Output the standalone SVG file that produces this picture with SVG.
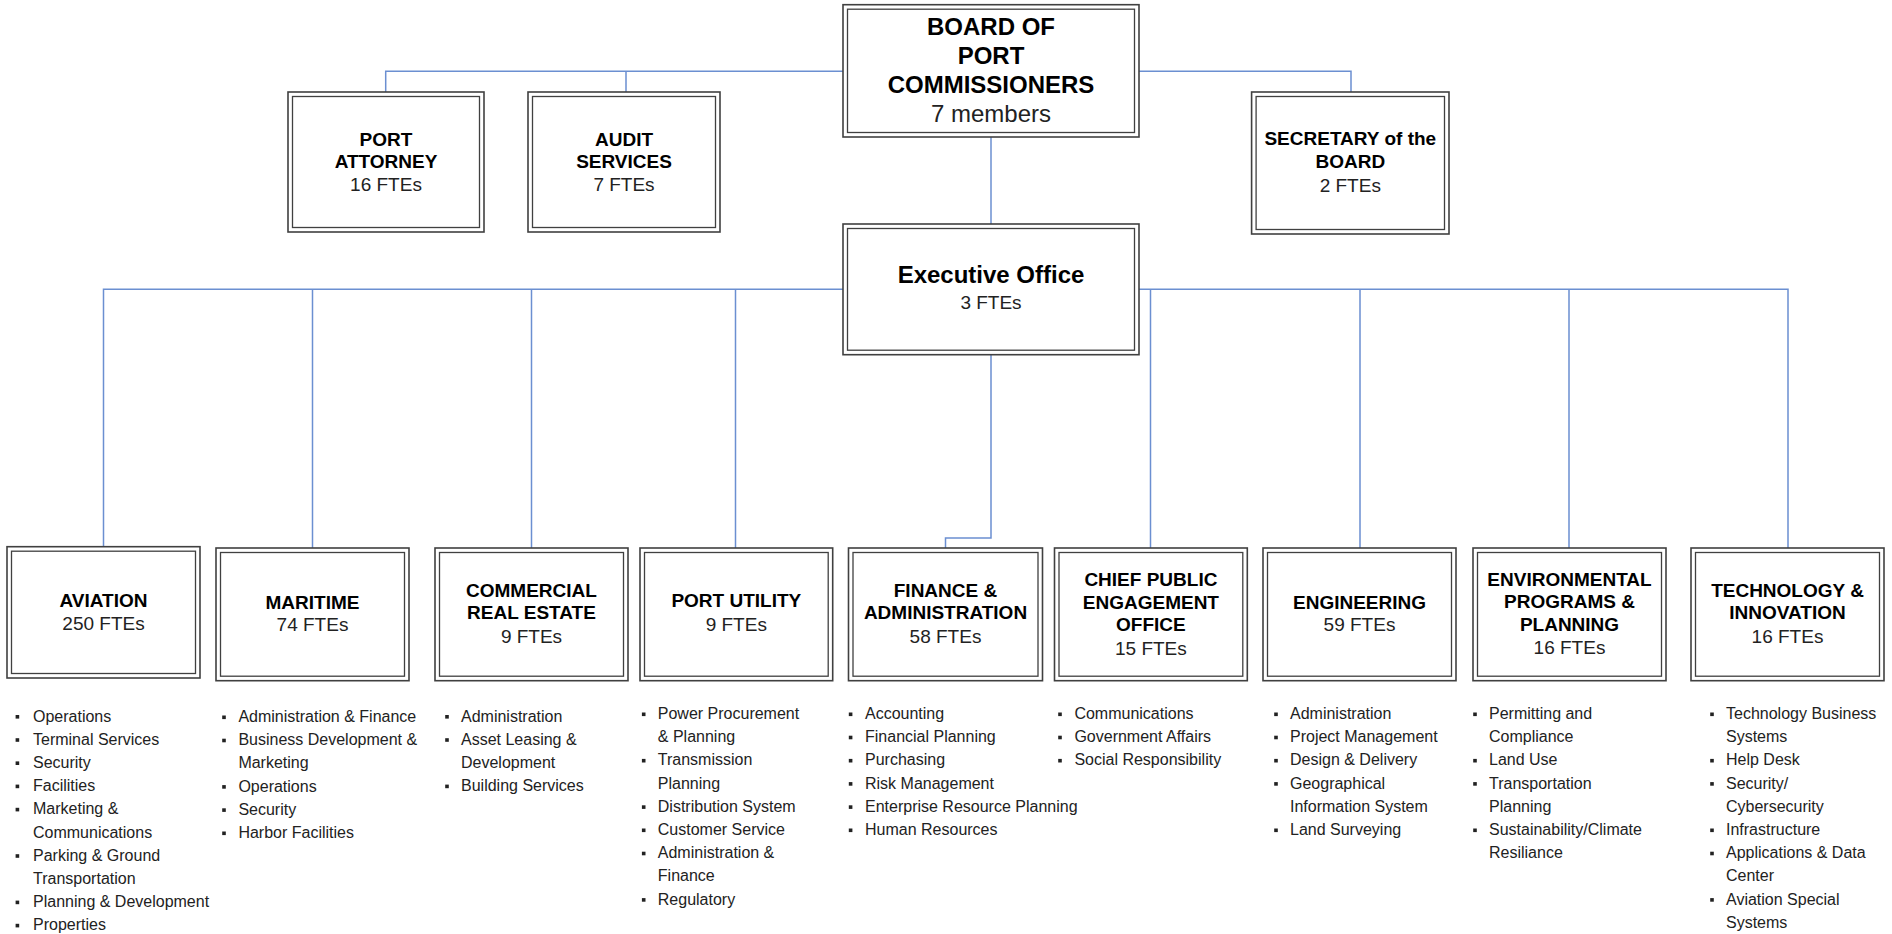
<svg xmlns="http://www.w3.org/2000/svg" width="1892" height="934" viewBox="0 0 1892 934">
<style>
.outer{fill:#fff;stroke:#404040;stroke-width:1.6}
.inner{fill:none;stroke:#404040;stroke-width:1.3}
.conn{fill:none;stroke:#6b8fd1;stroke-width:1.5}
text{font-family:"Liberation Sans",Arial,sans-serif}
.h{font-size:19px;font-weight:bold;fill:#000;text-anchor:middle}
.hb{font-size:24px;font-weight:bold;fill:#000;text-anchor:middle}
.f{font-size:19px;fill:#222;text-anchor:middle}
.fb{font-size:24px;fill:#222;text-anchor:middle}
.b{font-size:16px;fill:#222}
.dot{fill:#222}
</style>
<defs>
<rect id="bl" width="3.6" height="3.6" class="dot"/>
</defs>
<g id="connectors">
<path class="conn" d="M385.7,92 V71.3 H843 M626,71.3 V92 M1139,71.3 H1351 V92"/>
<path class="conn" d="M991,137 V224"/>
<path class="conn" d="M103.5,546.7 V289.3 H843 M312.5,289.3 V548 M531.5,289.3 V548 M735.5,289.3 V548"/>
<path class="conn" d="M1139,289.3 H1788 V548 M1150.5,289.3 V548 M1360,289.3 V548 M1569,289.3 V548"/>
<path class="conn" d="M991,354.7 V538 H945.5 V548"/>
</g>
<g id="board">
<rect class="outer" x="843" y="4.7" width="296" height="132.3"/>
<rect class="inner" x="847.5" y="9.2" width="287" height="123.3"/>
<text class="hb" x="991" y="35">BOARD OF</text>
<text class="hb" x="991" y="64">PORT</text>
<text class="hb" x="991" y="93">COMMISSIONERS</text>
<text class="fb" x="991" y="121.5">7 members</text>
</g>
<g id="port-attorney">
<rect class="outer" x="288" y="92" width="196" height="140"/>
<rect class="inner" x="292.5" y="96.5" width="187" height="131"/>
<text class="h" x="386" y="146">PORT</text>
<text class="h" x="386" y="168">ATTORNEY</text>
<text class="f" x="386" y="191">16 FTEs</text>
</g>
<g id="audit-services">
<rect class="outer" x="528" y="92" width="192" height="140"/>
<rect class="inner" x="532.5" y="96.5" width="183" height="131"/>
<text class="h" x="624" y="146">AUDIT</text>
<text class="h" x="624" y="168">SERVICES</text>
<text class="f" x="624" y="191">7 FTEs</text>
</g>
<g id="secretary">
<rect class="outer" x="1251.6" y="92" width="197.4" height="142"/>
<rect class="inner" x="1256.1" y="96.5" width="188.4" height="133"/>
<text class="h" x="1350.3" y="145">SECRETARY of the</text>
<text class="h" x="1350.3" y="168">BOARD</text>
<text class="f" x="1350.3" y="192">2 FTEs</text>
</g>
<g id="executive-office">
<rect class="outer" x="843" y="224" width="296" height="130.7"/>
<rect class="inner" x="847.5" y="228.5" width="287" height="121.7"/>
<text class="hb" x="991" y="283.3">Executive Office</text>
<text class="f" x="991" y="309.3">3 FTEs</text>
</g>
<g id="aviation">
<rect class="outer" x="7" y="546.7" width="193" height="131.3"/>
<rect class="inner" x="11.5" y="551.2" width="184" height="122.3"/>
<text class="h" x="103.5" y="607">AVIATION</text>
<text class="f" x="103.5" y="630">250 FTEs</text>
<g class="b">
<use href="#bl" x="15.6" y="715"/><text class="b" x="33" y="721.5">Operations</text>
<use href="#bl" x="15.6" y="738.2"/><text class="b" x="33" y="744.7">Terminal Services</text>
<use href="#bl" x="15.6" y="761.4"/><text class="b" x="33" y="767.9">Security</text>
<use href="#bl" x="15.6" y="784.6"/><text class="b" x="33" y="791.1">Facilities</text>
<use href="#bl" x="15.6" y="807.8"/><text class="b" x="33" y="814.3">Marketing &amp;</text>
<text class="b" x="33" y="837.5">Communications</text>
<use href="#bl" x="15.6" y="854.2"/><text class="b" x="33" y="860.7">Parking &amp; Ground</text>
<text class="b" x="33" y="883.9">Transportation</text>
<use href="#bl" x="15.6" y="900.6"/><text class="b" x="33" y="907.1">Planning &amp; Development</text>
<use href="#bl" x="15.6" y="923.8"/><text class="b" x="33" y="930.3">Properties</text>
</g>
</g>
<g id="maritime">
<rect class="outer" x="216" y="548" width="193" height="132.7"/>
<rect class="inner" x="220.5" y="552.5" width="184" height="123.7"/>
<text class="h" x="312.5" y="609">MARITIME</text>
<text class="f" x="312.5" y="631">74 FTEs</text>
<use href="#bl" x="222.2" y="715.5"/><text class="b" x="238.4" y="722">Administration &amp; Finance</text>
<use href="#bl" x="222.2" y="738.7"/><text class="b" x="238.4" y="745.2">Business Development &amp;</text>
<text class="b" x="238.4" y="768.4">Marketing</text>
<use href="#bl" x="222.2" y="785.1"/><text class="b" x="238.4" y="791.6">Operations</text>
<use href="#bl" x="222.2" y="808.3"/><text class="b" x="238.4" y="814.8">Security</text>
<use href="#bl" x="222.2" y="831.5"/><text class="b" x="238.4" y="838">Harbor Facilities</text>
</g>
<g id="commercial-real-estate">
<rect class="outer" x="435" y="548" width="193" height="132.7"/>
<rect class="inner" x="439.5" y="552.5" width="184" height="123.7"/>
<text class="h" x="531.5" y="597">COMMERCIAL</text>
<text class="h" x="531.5" y="619">REAL ESTATE</text>
<text class="f" x="531.5" y="643">9 FTEs</text>
<use href="#bl" x="445.2" y="715"/><text class="b" x="461" y="721.5">Administration</text>
<use href="#bl" x="445.2" y="738.2"/><text class="b" x="461" y="744.7">Asset Leasing &amp;</text>
<text class="b" x="461" y="767.9">Development</text>
<use href="#bl" x="445.2" y="784.6"/><text class="b" x="461" y="791.1">Building Services</text>
</g>
<g id="port-utility">
<rect class="outer" x="640" y="548" width="192.7" height="132.7"/>
<rect class="inner" x="644.5" y="552.5" width="183.7" height="123.7"/>
<text class="h" x="736.3" y="607">PORT UTILITY</text>
<text class="f" x="736.3" y="631">9 FTEs</text>
<use href="#bl" x="641.9" y="712.5"/><text class="b" x="657.8" y="719">Power Procurement</text>
<text class="b" x="657.8" y="742.2">&amp; Planning</text>
<use href="#bl" x="641.9" y="758.9"/><text class="b" x="657.8" y="765.4">Transmission</text>
<text class="b" x="657.8" y="788.6">Planning</text>
<use href="#bl" x="641.9" y="805.3"/><text class="b" x="657.8" y="811.8">Distribution System</text>
<use href="#bl" x="641.9" y="828.5"/><text class="b" x="657.8" y="835">Customer Service</text>
<use href="#bl" x="641.9" y="851.7"/><text class="b" x="657.8" y="858.2">Administration &amp;</text>
<text class="b" x="657.8" y="881.4">Finance</text>
<use href="#bl" x="641.9" y="898.1"/><text class="b" x="657.8" y="904.6">Regulatory</text>
</g>
<g id="finance-administration">
<rect class="outer" x="848.5" y="548" width="194" height="132.7"/>
<rect class="inner" x="853" y="552.5" width="185" height="123.7"/>
<text class="h" x="945.5" y="597">FINANCE &amp;</text>
<text class="h" x="945.5" y="619">ADMINISTRATION</text>
<text class="f" x="945.5" y="643">58 FTEs</text>
<use href="#bl" x="848.8" y="712.5"/><text class="b" x="865" y="719">Accounting</text>
<use href="#bl" x="848.8" y="735.7"/><text class="b" x="865" y="742.2">Financial Planning</text>
<use href="#bl" x="848.8" y="758.9"/><text class="b" x="865" y="765.4">Purchasing</text>
<use href="#bl" x="848.8" y="782.1"/><text class="b" x="865" y="788.6">Risk Management</text>
<use href="#bl" x="848.8" y="805.3"/><text class="b" x="865" y="811.8">Enterprise Resource Planning</text>
<use href="#bl" x="848.8" y="828.5"/><text class="b" x="865" y="835">Human Resources</text>
</g>
<g id="chief-public-engagement-office">
<rect class="outer" x="1054.5" y="548" width="192.8" height="132.7"/>
<rect class="inner" x="1059" y="552.5" width="183.8" height="123.7"/>
<text class="h" x="1150.9" y="586">CHIEF PUBLIC</text>
<text class="h" x="1150.9" y="609">ENGAGEMENT</text>
<text class="h" x="1150.9" y="631">OFFICE</text>
<text class="f" x="1150.9" y="655">15 FTEs</text>
<use href="#bl" x="1058.2" y="712.5"/><text class="b" x="1074.4" y="719">Communications</text>
<use href="#bl" x="1058.2" y="735.7"/><text class="b" x="1074.4" y="742.2">Government Affairs</text>
<use href="#bl" x="1058.2" y="758.9"/><text class="b" x="1074.4" y="765.4">Social Responsibility</text>
</g>
<g id="engineering">
<rect class="outer" x="1263" y="548" width="193" height="132.7"/>
<rect class="inner" x="1267.5" y="552.5" width="184" height="123.7"/>
<text class="h" x="1359.5" y="609">ENGINEERING</text>
<text class="f" x="1359.5" y="631">59 FTEs</text>
<use href="#bl" x="1274.2" y="712.5"/><text class="b" x="1290" y="719">Administration</text>
<use href="#bl" x="1274.2" y="735.7"/><text class="b" x="1290" y="742.2">Project Management</text>
<use href="#bl" x="1274.2" y="758.9"/><text class="b" x="1290" y="765.4">Design &amp; Delivery</text>
<use href="#bl" x="1274.2" y="782.1"/><text class="b" x="1290" y="788.6">Geographical</text>
<text class="b" x="1290" y="811.8">Information System</text>
<use href="#bl" x="1274.2" y="828.5"/><text class="b" x="1290" y="835">Land Surveying</text>
</g>
<g id="environmental-programs-planning">
<rect class="outer" x="1473" y="548" width="193" height="132.7"/>
<rect class="inner" x="1477.5" y="552.5" width="184" height="123.7"/>
<text class="h" x="1569.5" y="586">ENVIRONMENTAL</text>
<text class="h" x="1569.5" y="608">PROGRAMS &amp;</text>
<text class="h" x="1569.5" y="631">PLANNING</text>
<text class="f" x="1569.5" y="654">16 FTEs</text>
<use href="#bl" x="1473.2" y="712.5"/><text class="b" x="1489" y="719">Permitting and</text>
<text class="b" x="1489" y="742.2">Compliance</text>
<use href="#bl" x="1473.2" y="758.9"/><text class="b" x="1489" y="765.4">Land Use</text>
<use href="#bl" x="1473.2" y="782.1"/><text class="b" x="1489" y="788.6">Transportation</text>
<text class="b" x="1489" y="811.8">Planning</text>
<use href="#bl" x="1473.2" y="828.5"/><text class="b" x="1489" y="835">Sustainability/Climate</text>
<text class="b" x="1489" y="858.2">Resiliance</text>
</g>
<g id="technology-innovation">
<rect class="outer" x="1691" y="548" width="193" height="132.7"/>
<rect class="inner" x="1695.5" y="552.5" width="184" height="123.7"/>
<text class="h" x="1787.5" y="597">TECHNOLOGY &amp;</text>
<text class="h" x="1787.5" y="619">INNOVATION</text>
<text class="f" x="1787.5" y="643">16 FTEs</text>
<use href="#bl" x="1710.2" y="712.5"/><text class="b" x="1726" y="719">Technology Business</text>
<text class="b" x="1726" y="742.2">Systems</text>
<use href="#bl" x="1710.2" y="758.9"/><text class="b" x="1726" y="765.4">Help Desk</text>
<use href="#bl" x="1710.2" y="782.1"/><text class="b" x="1726" y="788.6">Security/</text>
<text class="b" x="1726" y="811.8">Cybersecurity</text>
<use href="#bl" x="1710.2" y="828.5"/><text class="b" x="1726" y="835">Infrastructure</text>
<use href="#bl" x="1710.2" y="851.7"/><text class="b" x="1726" y="858.2">Applications &amp; Data</text>
<text class="b" x="1726" y="881.4">Center</text>
<use href="#bl" x="1710.2" y="898.1"/><text class="b" x="1726" y="904.6">Aviation Special</text>
<text class="b" x="1726" y="927.8">Systems</text>
</g>
</svg>
